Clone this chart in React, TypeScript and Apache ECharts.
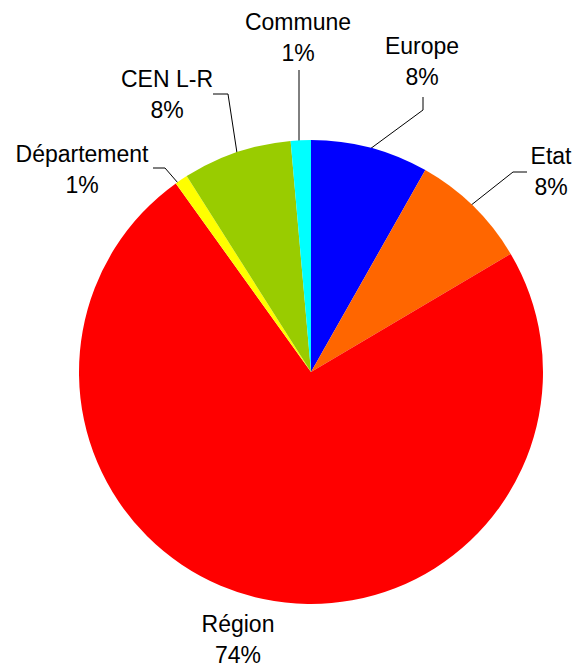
import React, { useEffect, useRef } from "react";
import * as echarts from "echarts";

const categories = ["Europe", "Etat", "Région", "Département", "CEN L-R", "Commune"];
const values = [8.2, 8.3, 73.6, 0.9, 7.6, 1.4];
const colors = ["#0000FF", "#FF6600", "#FF0000", "#FFFF00", "#99CC00", "#00FFFF"];

// label block centres and leader-line points (layout only)
const labelPos: [number, number][] = [
  [422, 61],
  [551, 171],
  [238, 639],
  [82, 169],
  [167, 94],
  [298, 37],
];
const linePts: ([number, number][] | null)[] = [
  [[370, 149], [423, 110], [423, 97]],
  [[470, 206], [513, 172], [527, 172]],
  null,
  [[178, 183], [165, 168], [153, 168]],
  [[237, 153], [228, 94], [213, 94]],
  [[299, 141], [299, 105], [299, 70]],
];

export default function App() {
  const ref = useRef<HTMLDivElement>(null);
  useEffect(() => {
    if (!ref.current) return;
    const chart = echarts.init(ref.current, undefined, { renderer: "svg" });
    chart.setOption({
      animation: false,
      backgroundColor: "#ffffff",
      series: [
        {
          type: "pie",
          center: [311, 372],
          radius: 232,
          startAngle: 90,
          clockwise: true,
          percentPrecision: 0,
          avoidLabelOverlap: false,
          data: categories.map((name, i) => ({
            name,
            value: values[i],
            itemStyle: { color: colors[i] },
            labelLine: { show: linePts[i] !== null },
          })),
          label: {
            show: true,
            formatter: "{b}\n{d}%",
            fontFamily: "Liberation Sans, Arial, sans-serif",
            fontSize: 23,
            lineHeight: 31,
            color: "#000000",
            align: "center",
          },
          labelLine: {
            show: true,
            lineStyle: { color: "#000000", width: 1 },
          },
          labelLayout: (params: any) => {
            const i = params.dataIndex;
            const res: any = {
              x: labelPos[i][0],
              y: labelPos[i][1],
              align: "center",
              verticalAlign: "middle",
            };
            if (linePts[i]) res.labelLinePoints = linePts[i];
            return res;
          },
          emphasis: { disabled: true },
        },
      ],
    });
    return () => chart.dispose();
  }, []);
  return (
    <div
      ref={ref}
      style={{ position: "absolute", left: 0, top: 0, width: 575, height: 665 }}
    />
  );
}
